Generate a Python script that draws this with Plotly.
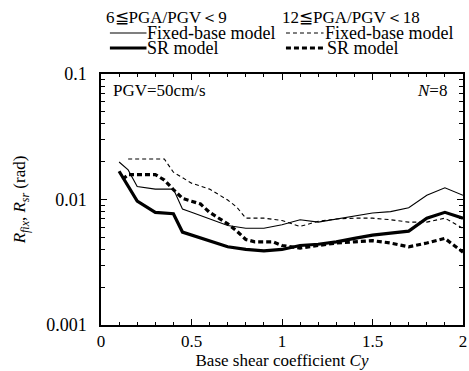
import plotly.graph_objects as go

# ---- data ----
fix_a_x = [0.1, 0.15, 0.2, 0.3, 0.4, 0.45, 0.5, 0.6, 0.7, 0.8, 0.9, 1.0, 1.1, 1.2, 1.3, 1.4, 1.5, 1.6, 1.7, 1.8, 1.9, 2.0]
fix_a_y = [0.0199, 0.0172, 0.0127, 0.0121, 0.0121, 0.0084, 0.0079, 0.0070, 0.0062, 0.0059, 0.0059, 0.0063, 0.0069, 0.0066, 0.0070, 0.0074, 0.0078, 0.0080, 0.0086, 0.0108, 0.0124, 0.0108]

sr_a_x = [0.1, 0.2, 0.3, 0.4, 0.45, 0.5, 0.6, 0.7, 0.8, 0.9, 1.0, 1.1, 1.2, 1.3, 1.4, 1.5, 1.6, 1.7, 1.8, 1.9, 2.0]
sr_a_y = [0.0168, 0.0097, 0.0079, 0.0077, 0.0055, 0.0052, 0.0047, 0.0042, 0.0040, 0.0039, 0.0040, 0.0043, 0.0044, 0.0046, 0.0049, 0.0052, 0.0054, 0.0056, 0.0071, 0.0079, 0.0071]

fix_b_x = [0.15, 0.35, 0.4, 0.5, 0.6, 0.7, 0.75, 0.8, 0.9, 1.0, 1.1, 1.2, 1.3, 1.4, 1.5, 1.6, 1.7, 1.8, 1.9, 2.0]
fix_b_y = [0.0210, 0.0210, 0.0165, 0.0135, 0.0121, 0.0099, 0.0087, 0.0071, 0.0071, 0.0068, 0.0061, 0.0067, 0.0070, 0.0071, 0.0071, 0.0069, 0.0066, 0.0066, 0.0071, 0.0059]

sr_b_x = [0.12, 0.15, 0.3, 0.35, 0.4, 0.45, 0.5, 0.55, 0.6, 0.7, 0.75, 0.8, 0.85, 0.95, 1.0, 1.1, 1.2, 1.3, 1.4, 1.5, 1.6, 1.7, 1.8, 1.9, 2.0]
sr_b_y = [0.0145, 0.0158, 0.0158, 0.0143, 0.0120, 0.0102, 0.0097, 0.0092, 0.0079, 0.0064, 0.0056, 0.0048, 0.0046, 0.0046, 0.0043, 0.0041, 0.0043, 0.0045, 0.0046, 0.0047, 0.0045, 0.0042, 0.0045, 0.0049, 0.0038]

x_tickvals = [0, 0.5, 1, 1.5, 2]
x_ticktext = ["0", "0.5", "1", "1.5", "2"]
y_tickvals = [0.001, 0.01, 0.1]
y_ticktext = ["0.001", "0.01", "0.1"]

FONT = "Liberation Serif"

fig = go.Figure()
fig.add_trace(go.Scatter(x=fix_a_x, y=fix_a_y, mode="lines", line=dict(color="black", width=1.1)))
fig.add_trace(go.Scatter(x=sr_a_x, y=sr_a_y, mode="lines", line=dict(color="black", width=3.2)))
fig.add_trace(go.Scatter(x=fix_b_x, y=fix_b_y, mode="lines", line=dict(color="black", width=1.1, dash="4px,3px")))
fig.add_trace(go.Scatter(x=sr_b_x, y=sr_b_y, mode="lines", line=dict(color="black", width=3.2, dash="5px,3px")))

minor_y = [m * 10 ** e for e in (-3, -2) for m in range(2, 10)]

fig.update_layout(
    width=469, height=371,
    margin=dict(l=101, r=2, t=74, b=46),
    paper_bgcolor="white", plot_bgcolor="white",
    showlegend=False,
    font=dict(family=FONT, size=17, color="black"),
    xaxis=dict(
        range=[0, 2], tickvals=x_tickvals, ticktext=x_ticktext,
        ticks="inside", ticklen=6, tickwidth=1, tickcolor="black",
        showline=True, linecolor="black", linewidth=1.5, mirror="ticks",
        showgrid=False, zeroline=False, ticklabeloverflow="allow",
        minor=dict(dtick=0.1, ticks="inside", ticklen=3, tickcolor="black", showgrid=False),
        tickfont=dict(family=FONT, size=17),
        title=dict(text="Base shear coefficient <i>Cy</i>", font=dict(family=FONT, size=17), standoff=2),
    ),
    yaxis=dict(
        type="log", range=[-3, -1], tickvals=y_tickvals, ticktext=y_ticktext,
        ticks="inside", ticklen=6, tickwidth=1, tickcolor="black",
        showline=True, linecolor="black", linewidth=1.5, mirror="ticks",
        showgrid=False, zeroline=False, ticklabelstandoff=9,
        minor=dict(tickvals=minor_y, ticks="inside", ticklen=4, tickcolor="black", showgrid=False),
        tickfont=dict(family=FONT, size=18),
        title=dict(text="<i>R</i><sub><i>fix</i></sub>, <i>R</i><sub><i>sr</i></sub> (rad)",
                   font=dict(family=FONT, size=17), standoff=16),
    ),
)

# plot region is x 101..467, y 74..325 in pixels
def px(xp):
    return (xp - 101) / 366

def py(yp):
    return 1 - (yp - 74) / 251

ann = [
    dict(x=105, y=18, text="6≦PGA/PGV＜9", xanchor="left", size=17),
    dict(x=283, y=18, text="12≦PGA/PGV＜18", xanchor="left", size=17),
    dict(x=147, y=33, text="Fixed-base model", xanchor="left", size=18),
    dict(x=147, y=48, text="SR model", xanchor="left", size=18),
    dict(x=326, y=33, text="Fixed-base model", xanchor="left", size=18),
    dict(x=328, y=48, text="SR model", xanchor="left", size=18),
    dict(x=112, y=91, text="PGV=50cm/s", xanchor="left", size=17),
    dict(x=452, y=91, text="<i>N</i>=8", xanchor="right", size=17),
]
for a in ann:
    fig.add_annotation(x=px(a["x"]), y=py(a["y"]), xref="paper", yref="paper",
                       text=a["text"], xanchor=a["xanchor"], yanchor="middle", showarrow=False,
                       borderpad=0, font=dict(family=FONT, size=a["size"], color="black"))

for (x0, x1, yy, w, dash) in [(110, 147, 33, 1.1, "solid"), (110, 147, 48, 3.2, "solid"),
                              (288, 326, 33, 1.1, "4px,3px"), (288, 326, 48, 3.2, "5px,3px")]:
    fig.add_shape(type="line", xref="paper", yref="paper", x0=px(x0), x1=px(x1), y0=py(yy), y1=py(yy),
                  line=dict(color="black", width=w, dash=dash))

fig.write_html("out.html")
